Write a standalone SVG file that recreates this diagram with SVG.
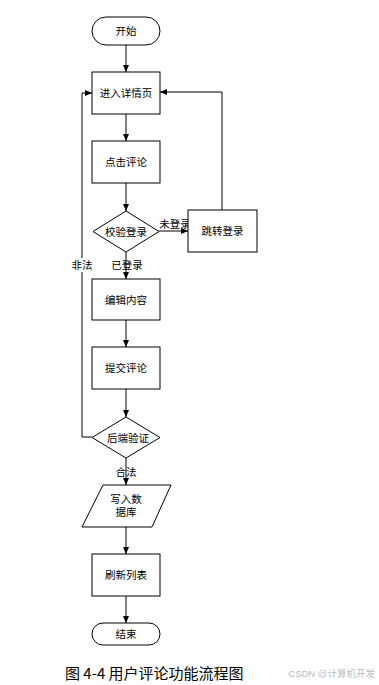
<svg xmlns="http://www.w3.org/2000/svg" width="379" height="685" viewBox="0 0 379 685">
<style>
.s{fill:#fff;stroke:#000;stroke-width:1}
.t{font-family:"Liberation Sans","Noto Sans CJK SC",sans-serif;font-size:10.5px;text-anchor:middle;dominant-baseline:central;fill:#000}
.l{fill:none;stroke:#000;stroke-width:1}
</style>
<defs>
<marker id="a" markerWidth="8" markerHeight="8" refX="7" refY="4" orient="auto" markerUnits="userSpaceOnUse">
<path d="M0,1 L7,4 L0,7 Z" fill="#000"/>
</marker>
</defs>
<rect width="379" height="685" fill="#fff"/>
<g id="connectors">
<path class="l" d="M126,45 V72" marker-end="url(#a)"/>
<path class="l" d="M126,114 V141" marker-end="url(#a)"/>
<path class="l" d="M126,183 V211" marker-end="url(#a)"/>
<path class="l" d="M159,231 H188" marker-end="url(#a)"/>
<path class="l" d="M222,210 V92 H160" marker-end="url(#a)"/>
<path class="l" d="M126,252 V279" marker-end="url(#a)"/>
<path class="l" d="M126,320 V347" marker-end="url(#a)"/>
<path class="l" d="M126,389 V417" marker-end="url(#a)"/>
<path class="l" d="M92,437 H82 V93 H92" marker-end="url(#a)"/>
<path class="l" d="M126,458 V485" marker-end="url(#a)"/>
<path class="l" d="M126,527 V554" marker-end="url(#a)"/>
<path class="l" d="M126,596 V623" marker-end="url(#a)"/>
<rect x="70" y="258" width="24" height="14" fill="#fff"/>
<text class="t" x="82" y="265">非法</text>
<text class="t" x="127" y="265">已登录</text>
<text class="t" x="175" y="224">未登录</text>
<text class="t" x="126" y="472">合法</text>
</g>
<g id="start"><rect class="s" x="92" y="17" width="68" height="28" rx="14"/><text class="t" x="126" y="31">开始</text></g>
<g id="detail"><rect class="s" x="92" y="72" width="68" height="42"/><text class="t" x="126" y="93">进入详情页</text></g>
<g id="click"><rect class="s" x="92" y="141" width="68" height="42"/><text class="t" x="126" y="162">点击评论</text></g>
<g id="check"><polygon class="s" points="126,211 159,231.5 126,252 93,231.5"/><text class="t" x="126" y="231.5">校验登录</text></g>
<g id="login"><rect class="s" x="188" y="210" width="69" height="42"/><text class="t" x="222.5" y="231">跳转登录</text></g>
<g id="edit"><rect class="s" x="92" y="279" width="68" height="41"/><text class="t" x="126" y="299.5">编辑内容</text></g>
<g id="submit"><rect class="s" x="92" y="347" width="68" height="42"/><text class="t" x="126" y="368">提交评论</text></g>
<g id="verify"><polygon class="s" points="126,417 160,437.5 126,458 92,437.5"/><text class="t" x="128" y="437.5">后端验证</text></g>
<g id="write"><polygon class="s" points="103,485 171,485 152,527 82,527"/><text class="t" x="126" y="499">写入数</text><text class="t" x="126" y="512">据库</text></g>
<g id="refresh"><rect class="s" x="92" y="554" width="68" height="42"/><text class="t" x="126" y="575">刷新列表</text></g>
<g id="end"><rect class="s" x="92" y="623" width="68" height="22" rx="11"/><text class="t" x="126" y="634">结束</text></g>
<text x="65" y="679" font-family="'Noto Sans CJK SC','Liberation Sans',sans-serif" font-size="15" fill="#000">图 4-4 用户评论功能流程图</text>
<text x="375" y="677" text-anchor="end" font-family="'Liberation Sans','Noto Sans CJK SC',sans-serif" font-size="9.5" fill="#bdbdbd">CSDN @计算机开发</text>
</svg>
